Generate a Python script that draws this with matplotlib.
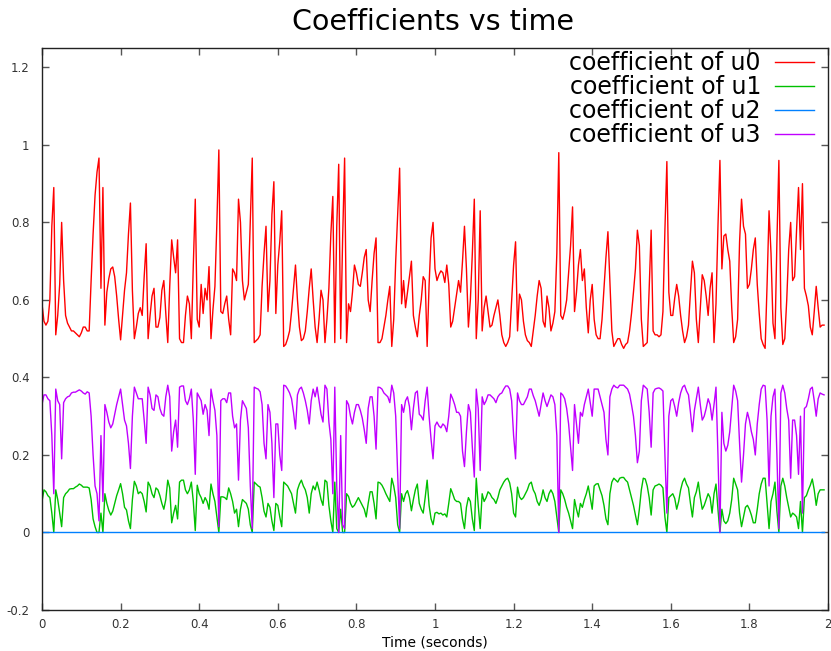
import numpy as np
import matplotlib
matplotlib.use("Agg")
import matplotlib.pyplot as plt
from matplotlib.ticker import FuncFormatter

# sample spacing of the recorded coefficients (seconds)
dt = 0.005

coef_u0 = [
    0.59, 0.545, 0.535, 0.545, 0.60, 0.79, 0.89, 0.51, 0.56, 0.64, 0.80, 0.65, 0.56, 0.54, 0.53, 0.52, 0.52, 0.515, 0.51, 0.505,
    0.515, 0.53, 0.53, 0.52, 0.52, 0.65, 0.77, 0.87, 0.93, 0.966, 0.63, 0.89, 0.535, 0.62, 0.655, 0.68, 0.685, 0.66, 0.61, 0.55,
    0.497, 0.56, 0.625, 0.67, 0.77, 0.85, 0.625, 0.50, 0.53, 0.565, 0.58, 0.56, 0.66, 0.745, 0.50, 0.56, 0.61, 0.63, 0.53, 0.53,
    0.555, 0.625, 0.65, 0.565, 0.49, 0.635, 0.755, 0.71, 0.67, 0.755, 0.50, 0.49, 0.49, 0.56, 0.61, 0.59, 0.50, 0.69, 0.86, 0.55,
    0.53, 0.64, 0.565, 0.63, 0.60, 0.686, 0.50, 0.575, 0.635, 0.80, 0.987, 0.57, 0.565, 0.59, 0.61, 0.55, 0.51, 0.68, 0.67, 0.65,
    0.86, 0.80, 0.65, 0.60, 0.62, 0.64, 0.80, 0.966, 0.49, 0.495, 0.50, 0.51, 0.635, 0.72, 0.79, 0.57, 0.65, 0.82, 0.905, 0.565,
    0.69, 0.75, 0.83, 0.48, 0.485, 0.50, 0.52, 0.57, 0.63, 0.69, 0.60, 0.53, 0.495, 0.50, 0.52, 0.57, 0.63, 0.68, 0.60, 0.53,
    0.49, 0.55, 0.625, 0.60, 0.49, 0.55, 0.63, 0.77, 0.867, 0.49, 0.79, 0.95, 0.50, 0.76, 0.966, 0.49, 0.59, 0.57, 0.62, 0.69,
    0.67, 0.64, 0.635, 0.67, 0.71, 0.73, 0.60, 0.57, 0.65, 0.72, 0.76, 0.49, 0.49, 0.50, 0.53, 0.56, 0.60, 0.635, 0.48, 0.55,
    0.70, 0.82, 0.94, 0.59, 0.65, 0.58, 0.62, 0.66, 0.70, 0.56, 0.53, 0.505, 0.56, 0.60, 0.66, 0.65, 0.48, 0.64, 0.76, 0.80,
    0.68, 0.65, 0.665, 0.675, 0.67, 0.645, 0.69, 0.64, 0.53, 0.545, 0.58, 0.615, 0.65, 0.62, 0.70, 0.79, 0.68, 0.53, 0.60, 0.72,
    0.86, 0.50, 0.60, 0.83, 0.52, 0.58, 0.61, 0.57, 0.53, 0.535, 0.56, 0.58, 0.60, 0.56, 0.51, 0.49, 0.48, 0.49, 0.505, 0.60,
    0.69, 0.75, 0.52, 0.615, 0.60, 0.545, 0.51, 0.495, 0.49, 0.48, 0.52, 0.56, 0.61, 0.65, 0.63, 0.545, 0.53, 0.61, 0.58, 0.52,
    0.54, 0.57, 0.72, 0.98, 0.56, 0.55, 0.57, 0.60, 0.67, 0.74, 0.84, 0.57, 0.62, 0.69, 0.73, 0.65, 0.68, 0.58, 0.515, 0.60,
    0.64, 0.55, 0.51, 0.50, 0.50, 0.55, 0.63, 0.71, 0.776, 0.65, 0.52, 0.48, 0.49, 0.50, 0.50, 0.485, 0.475, 0.485, 0.49, 0.52,
    0.565, 0.62, 0.68, 0.78, 0.74, 0.55, 0.48, 0.485, 0.49, 0.63, 0.78, 0.52, 0.51, 0.51, 0.505, 0.51, 0.57, 0.78, 0.957, 0.62,
    0.56, 0.56, 0.605, 0.64, 0.61, 0.56, 0.52, 0.49, 0.505, 0.535, 0.62, 0.70, 0.67, 0.55, 0.49, 0.58, 0.665, 0.65, 0.61, 0.56,
    0.63, 0.67, 0.49, 0.59, 0.79, 0.96, 0.68, 0.765, 0.77, 0.73, 0.70, 0.58, 0.49, 0.505, 0.55, 0.75, 0.86, 0.79, 0.77, 0.63,
    0.64, 0.68, 0.73, 0.76, 0.64, 0.565, 0.50, 0.485, 0.475, 0.64, 0.83, 0.72, 0.54, 0.50, 0.75, 0.96, 0.58, 0.485, 0.50, 0.60,
    0.73, 0.80, 0.65, 0.66, 0.78, 0.89, 0.73, 0.90, 0.63, 0.61, 0.585, 0.53, 0.51, 0.57, 0.635, 0.58, 0.53, 0.535, 0.535,
]

coef_u1 = [
    0.08, 0.11, 0.105, 0.095, 0.09, 0.05, 0.0, 0.11, 0.085, 0.05, 0.015, 0.09, 0.10, 0.105, 0.112, 0.113, 0.113, 0.117, 0.12, 0.125,
    0.122, 0.117, 0.117, 0.117, 0.115, 0.085, 0.035, 0.015, 0.0, 0.0, 0.05, 0.0, 0.10, 0.075, 0.057, 0.045, 0.055, 0.075, 0.095, 0.11,
    0.126, 0.10, 0.065, 0.058, 0.03, 0.01, 0.085, 0.132, 0.12, 0.10, 0.105, 0.10, 0.08, 0.053, 0.13, 0.12, 0.10, 0.09, 0.115, 0.11,
    0.095, 0.075, 0.06, 0.085, 0.135, 0.115, 0.025, 0.05, 0.07, 0.035, 0.13, 0.135, 0.135, 0.11, 0.10, 0.11, 0.13, 0.08, 0.005, 0.122,
    0.10, 0.09, 0.075, 0.09, 0.08, 0.06, 0.125, 0.10, 0.08, 0.04, 0.0, 0.092, 0.092, 0.09, 0.085, 0.115, 0.10, 0.08, 0.05, 0.06,
    0.015, 0.06, 0.085, 0.08, 0.075, 0.06, 0.02, 0.0, 0.13, 0.125, 0.12, 0.117, 0.09, 0.055, 0.04, 0.075, 0.065, 0.03, 0.005, 0.075,
    0.07, 0.04, 0.015, 0.13, 0.125, 0.12, 0.11, 0.10, 0.075, 0.05, 0.11, 0.125, 0.135, 0.12, 0.11, 0.09, 0.05, 0.10, 0.12, 0.11,
    0.13, 0.11, 0.085, 0.07, 0.135, 0.13, 0.07, 0.03, 0.0, 0.13, 0.01, 0.0, 0.06, 0.0, 0.0, 0.10, 0.093, 0.075, 0.065, 0.07,
    0.08, 0.09, 0.08, 0.07, 0.06, 0.04, 0.075, 0.105, 0.105, 0.075, 0.035, 0.13, 0.128, 0.122, 0.112, 0.10, 0.09, 0.08, 0.14, 0.12,
    0.09, 0.02, 0.0, 0.10, 0.08, 0.10, 0.108, 0.09, 0.056, 0.085, 0.11, 0.125, 0.075, 0.06, 0.05, 0.09, 0.135, 0.07, 0.035, 0.02,
    0.05, 0.052, 0.048, 0.05, 0.045, 0.048, 0.04, 0.075, 0.113, 0.10, 0.085, 0.08, 0.08, 0.075, 0.035, 0.01, 0.065, 0.09, 0.08, 0.035,
    0.005, 0.14, 0.07, 0.01, 0.10, 0.08, 0.09, 0.105, 0.10, 0.09, 0.085, 0.075, 0.09, 0.11, 0.12, 0.13, 0.137, 0.14, 0.128, 0.10,
    0.05, 0.04, 0.117, 0.092, 0.085, 0.09, 0.10, 0.11, 0.125, 0.13, 0.11, 0.10, 0.08, 0.07, 0.085, 0.11, 0.09, 0.08, 0.10, 0.11,
    0.10, 0.08, 0.04, 0.0, 0.11, 0.10, 0.085, 0.065, 0.05, 0.03, 0.01, 0.085, 0.06, 0.04, 0.075, 0.065, 0.085, 0.10, 0.12, 0.09,
    0.06, 0.12, 0.125, 0.126, 0.11, 0.095, 0.07, 0.035, 0.02, 0.10, 0.13, 0.14, 0.135, 0.13, 0.14, 0.142, 0.142, 0.135, 0.13, 0.11,
    0.09, 0.07, 0.045, 0.02, 0.06, 0.11, 0.14, 0.138, 0.12, 0.09, 0.045, 0.11, 0.12, 0.122, 0.125, 0.122, 0.115, 0.04, 0.0, 0.09,
    0.095, 0.10, 0.088, 0.06, 0.08, 0.11, 0.13, 0.14, 0.125, 0.115, 0.075, 0.04, 0.09, 0.105, 0.13, 0.09, 0.06, 0.07, 0.085, 0.10,
    0.09, 0.05, 0.10, 0.125, 0.06, 0.0, 0.06, 0.03, 0.023, 0.03, 0.05, 0.085, 0.14, 0.125, 0.11, 0.05, 0.015, 0.04, 0.065, 0.07,
    0.06, 0.045, 0.025, 0.025, 0.06, 0.10, 0.125, 0.14, 0.14, 0.075, 0.01, 0.08, 0.10, 0.13, 0.055, 0.0, 0.12, 0.14, 0.12, 0.09,
    0.065, 0.04, 0.05, 0.046, 0.04, 0.01, 0.08, 0.0, 0.09, 0.095, 0.11, 0.122, 0.138, 0.11, 0.07, 0.10, 0.11, 0.11, 0.11,
]

coef_u3 = [
    0.33, 0.355, 0.355, 0.345, 0.34, 0.25, 0.10, 0.37, 0.34, 0.33, 0.19, 0.335, 0.345, 0.35, 0.352, 0.36, 0.362, 0.362, 0.365, 0.368,
    0.365, 0.36, 0.357, 0.363, 0.36, 0.30, 0.20, 0.12, 0.10, 0.03, 0.25, 0.08, 0.33, 0.31, 0.285, 0.27, 0.28, 0.305, 0.33, 0.35,
    0.37, 0.33, 0.29, 0.275, 0.23, 0.165, 0.30, 0.375, 0.36, 0.345, 0.345, 0.345, 0.29, 0.23, 0.375, 0.355, 0.32, 0.315, 0.355, 0.35,
    0.32, 0.305, 0.30, 0.35, 0.38, 0.35, 0.21, 0.26, 0.29, 0.22, 0.375, 0.378, 0.378, 0.34, 0.33, 0.345, 0.37, 0.29, 0.15, 0.36,
    0.35, 0.34, 0.305, 0.33, 0.315, 0.25, 0.37, 0.34, 0.315, 0.25, 0.015, 0.34, 0.345, 0.345, 0.335, 0.36, 0.36, 0.30, 0.27, 0.28,
    0.135, 0.29, 0.34, 0.33, 0.32, 0.27, 0.12, 0.01, 0.375, 0.372, 0.37, 0.363, 0.33, 0.23, 0.19, 0.33, 0.31, 0.23, 0.09, 0.28,
    0.28, 0.20, 0.16, 0.38, 0.378, 0.37, 0.36, 0.345, 0.31, 0.267, 0.355, 0.37, 0.375, 0.36, 0.34, 0.315, 0.28, 0.34, 0.37, 0.35,
    0.375, 0.34, 0.305, 0.285, 0.38, 0.37, 0.285, 0.24, 0.10, 0.375, 0.12, 0.0, 0.25, 0.02, 0.01, 0.34, 0.33, 0.30, 0.28, 0.31,
    0.33, 0.33, 0.315, 0.295, 0.265, 0.23, 0.32, 0.35, 0.35, 0.30, 0.215, 0.375, 0.374, 0.37, 0.36, 0.355, 0.35, 0.335, 0.38, 0.36,
    0.30, 0.15, 0.01, 0.33, 0.31, 0.34, 0.35, 0.325, 0.265, 0.32, 0.36, 0.365, 0.305, 0.30, 0.29, 0.34, 0.375, 0.30, 0.24, 0.19,
    0.275, 0.285, 0.275, 0.27, 0.28, 0.275, 0.26, 0.30, 0.357, 0.345, 0.33, 0.31, 0.31, 0.30, 0.21, 0.17, 0.26, 0.33, 0.31, 0.22,
    0.143, 0.37, 0.32, 0.16, 0.35, 0.33, 0.34, 0.355, 0.355, 0.35, 0.345, 0.335, 0.35, 0.357, 0.36, 0.37, 0.378, 0.378, 0.37, 0.34,
    0.25, 0.19, 0.36, 0.34, 0.33, 0.33, 0.34, 0.35, 0.37, 0.37, 0.353, 0.34, 0.32, 0.30, 0.33, 0.36, 0.34, 0.325, 0.34, 0.355,
    0.35, 0.33, 0.25, 0.0, 0.36, 0.355, 0.345, 0.32, 0.28, 0.22, 0.16, 0.33, 0.28, 0.23, 0.31, 0.30, 0.33, 0.35, 0.37, 0.335,
    0.30, 0.37, 0.37, 0.37, 0.35, 0.33, 0.31, 0.24, 0.20, 0.35, 0.37, 0.38, 0.375, 0.373, 0.38, 0.38, 0.38, 0.375, 0.37, 0.357,
    0.33, 0.30, 0.25, 0.18, 0.21, 0.34, 0.38, 0.375, 0.37, 0.31, 0.22, 0.36, 0.37, 0.372, 0.373, 0.37, 0.365, 0.20, 0.05, 0.30,
    0.34, 0.345, 0.325, 0.30, 0.335, 0.36, 0.375, 0.38, 0.365, 0.355, 0.31, 0.26, 0.315, 0.345, 0.375, 0.33, 0.29, 0.30, 0.32, 0.345,
    0.33, 0.29, 0.33, 0.375, 0.20, 0.0, 0.31, 0.23, 0.21, 0.225, 0.26, 0.32, 0.38, 0.365, 0.34, 0.23, 0.13, 0.20, 0.28, 0.31,
    0.29, 0.26, 0.24, 0.20, 0.28, 0.33, 0.37, 0.38, 0.378, 0.29, 0.12, 0.30, 0.35, 0.37, 0.20, 0.01, 0.36, 0.38, 0.36, 0.32,
    0.29, 0.14, 0.29, 0.29, 0.25, 0.15, 0.30, 0.05, 0.32, 0.325, 0.345, 0.37, 0.375, 0.34, 0.30, 0.345, 0.36, 0.357, 0.355,
]

coef_u2 = [0.0] * len(coef_u0)

time = np.arange(len(coef_u0)) * dt

labels = ["coefficient of u0", "coefficient of u1", "coefficient of u2", "coefficient of u3"]
colors = ["#ff0000", "#00c000", "#0080ff", "#c000ff"]
x_ticks = [0, 0.2, 0.4, 0.6, 0.8, 1, 1.2, 1.4, 1.6, 1.8, 2]
y_ticks = [-0.2, 0, 0.2, 0.4, 0.6, 0.8, 1, 1.2]

W, H = 831, 651
fig = plt.figure(figsize=(W / 100, H / 100), dpi=100)
ax = fig.add_axes([42 / W, 1 - 610 / H, (828 - 42) / W, (610 - 48) / H])

for series, lab, col in zip([coef_u0, coef_u1, coef_u2, coef_u3], labels, colors):
    ax.plot(time, series, color=col, lw=1.0, label=lab)

ax.set_xlim(0, 2)
ax.set_ylim(-0.2, 1.25)
ax.set_xticks(x_ticks)
ax.set_yticks(y_ticks)
fmt = FuncFormatter(lambda v, p: "%g" % round(v, 3))
ax.xaxis.set_major_formatter(fmt)
ax.yaxis.set_major_formatter(fmt)
ax.tick_params(direction="in", length=5, width=1, color="#555555",
               labelsize=8.5, labelcolor="#333333", top=True, right=True)
ax.tick_params(axis="y", pad=9)
ax.tick_params(axis="x", pad=6)
for s in ax.spines.values():
    s.set_color("#222222")
    s.set_linewidth(1.0)

ax.set_xlabel("Time (seconds)", fontsize=10, labelpad=3)
fig.text(433 / W, 1 - 21.5 / H, "Coefficients vs time", fontsize=20.5,
         ha="center", va="center")

leg = ax.legend(loc="upper right", bbox_to_anchor=(814 / W, 1 - 51 / H),
                bbox_transform=fig.transFigure, frameon=False, fontsize=17,
                markerfirst=False, handlelength=1.65, handletextpad=0.6,
                labelspacing=0.0, borderpad=0, borderaxespad=0)

fig.savefig("out.png", dpi=100)
